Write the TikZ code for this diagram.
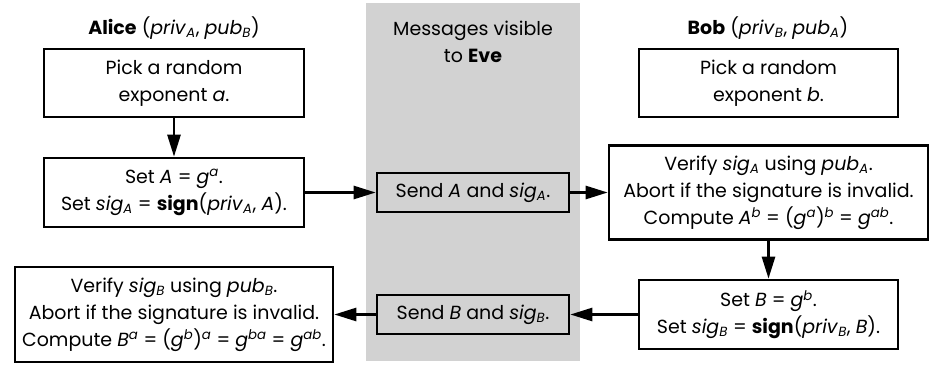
\documentclass[tikz,border=0pt]{standalone}
\usepackage{fontspec}
\setmainfont{Poppins}
\usetikzlibrary{arrows.meta}
\newcommand\sbs[1]{\textsubscript{\itshape #1}}
\newcommand\sps[1]{\textsuperscript{\itshape #1}}
\begin{document}
\begin{tikzpicture}[x=1pt,y=-1pt,
  every node/.style={font=\fontsize{19}{27}\selectfont, align=center, inner sep=0pt},
  box/.style={draw, line width=2.6pt},
  arr/.style={line width=2.6pt, -{Triangle[length=22pt,width=13pt]}}]
\useasboundingbox (0,0) rectangle (943,367);
\fill[gray!35] (366,3) rectangle (580,361);
\node (ah) at (174,28) {\textbf{Alice} (\textit{priv}\sbs{A}, \textit{pub}\sbs{B})};
\node (bh) at (768,28) {\textbf{Bob} (\textit{priv}\sbs{B}, \textit{pub}\sbs{A})};
\node (eh) at (473,42) {Messages visible\\to \textbf{Eve}};
\node[box, minimum width=260pt, minimum height=68pt] (a1) at (174,83) {Pick a random\\exponent \textit{a}.};
\node[box, minimum width=260pt, minimum height=69pt] (a2) at (174,192.5) {Set \textit{A} = \textit{g}\sps{a}.\\Set \textit{sig}\sbs{A} = \textbf{sign}(\textit{priv}\sbs{A}, \textit{A}).};
\node[box, minimum width=318pt, minimum height=95pt] (a3) at (174,314.5) {Verify \textit{sig}\sbs{B} using \textit{pub}\sbs{B}.\\Abort if the signature is invalid.\\Compute \textit{B}\sps{a} = (\textit{g}\sps{b})\sps{a} = \textit{g}\sps{ba} = \textit{g}\sps{ab}.};
\node[box, minimum width=259pt, minimum height=68pt] (b1) at (768.5,83) {Pick a random\\exponent \textit{b}.};
\node[box, minimum width=319pt, minimum height=94pt] (b2) at (768.5,192.5) {Verify \textit{sig}\sbs{A} using \textit{pub}\sbs{A}.\\Abort if the signature is invalid.\\Compute \textit{A}\sps{b} = (\textit{g}\sps{a})\sps{b} = \textit{g}\sps{ab}.};
\node[box, minimum width=259pt, minimum height=69pt] (b3) at (768.5,314.5) {Set \textit{B} = \textit{g}\sps{b}.\\Set \textit{sig}\sbs{B} = \textbf{sign}(\textit{priv}\sbs{B}, \textit{B}).};
\node[box, minimum width=192pt, minimum height=39pt] (sa) at (473,192.5) {Send \textit{A} and \textit{sig}\sbs{A}.};
\node[box, minimum width=192pt, minimum height=39pt] (sb) at (473,314.5) {Send \textit{B} and \textit{sig}\sbs{B}.};
\draw[arr] (a1.south) -- (a2.north);
\draw[arr] (a2.east) -- (sa.west);
\draw[arr] (sa.east) -- (b2.west);
\draw[arr] (b2.south) -- (b3.north);
\draw[arr] (b3.west) -- (sb.east);
\draw[arr] (sb.west) -- (a3.east);
\end{tikzpicture}
\end{document}
